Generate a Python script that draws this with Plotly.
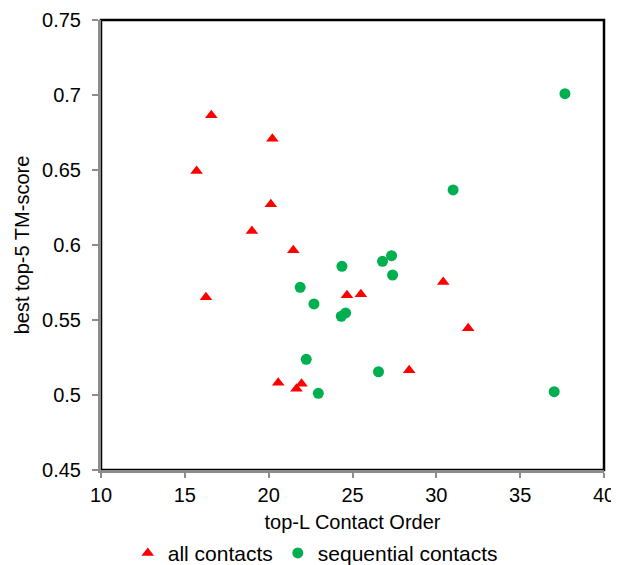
import plotly.graph_objects as go

all_x = [16.58, 20.22, 15.70, 20.13, 19.0, 21.47, 16.26, 24.67, 25.5, 30.41, 31.9, 28.38, 20.57, 21.96, 21.66]
all_y = [0.6865, 0.6709, 0.6493, 0.6271, 0.6093, 0.5965, 0.5651, 0.5665, 0.5671, 0.5753, 0.5445, 0.5165, 0.5082, 0.5075, 0.5042]

seq_x = [37.67, 31.0, 27.33, 26.79, 24.37, 27.39, 21.88, 22.70, 24.59, 24.33, 22.24, 26.55, 22.96, 37.03]
seq_y = [0.7009, 0.6367, 0.5929, 0.5891, 0.5858, 0.5800, 0.5718, 0.5607, 0.5547, 0.5525, 0.5238, 0.5155, 0.5011, 0.5022]

x_ticks = [10, 15, 20, 25, 30, 35, 40]
y_ticks = [0.45, 0.5, 0.55, 0.6, 0.65, 0.7, 0.75]
y_labels = ["0.45", "0.5", "0.55", "0.6", "0.65", "0.7", "0.75"]

fig = go.Figure()
fig.add_trace(go.Scatter(x=all_x, y=all_y, mode="markers", name="all contacts",
                         marker=dict(symbol="triangle-up", size=11, color="#FF0000")))
fig.add_trace(go.Scatter(x=seq_x, y=seq_y, mode="markers", name="sequential contacts",
                         marker=dict(symbol="circle", size=11, color="#00B050")))

font = "Liberation Sans, Arial, sans-serif"
fig.update_layout(
    width=611, height=557,
    margin=dict(l=93, r=15, t=12, b=95),
    plot_bgcolor="white", paper_bgcolor="white",
    font=dict(family=font, size=20, color="black"),
    showlegend=True,
    legend=dict(orientation="h", xref="container", x=0.196, xanchor="left",
                yref="container", y=0.021, yanchor="middle",
                font=dict(size=21), itemwidth=30, tracegroupgap=0),
    xaxis=dict(range=[10, 40], tickvals=x_ticks, showgrid=False, zeroline=False,
               automargin=False,
               showline=True, linecolor="#8c8c8c", linewidth=3,
               ticks="outside", ticklen=5, tickcolor="#8c8c8c", tickwidth=2,
               tickfont=dict(size=20),
               title=dict(text="top-L Contact Order", font=dict(size=20), standoff=28)),
    yaxis=dict(range=[0.45, 0.75], tickvals=y_ticks, ticktext=y_labels, showgrid=False,
               zeroline=False, automargin=False, showline=True, linecolor="#8c8c8c", linewidth=3,
               ticks="outside", ticklen=6, tickcolor="#8c8c8c", tickwidth=2,
               ticklabelstandoff=7,
               tickfont=dict(size=20),
               title=dict(text="best top-5 TM-score", font=dict(size=20), standoff=8)),
    shapes=[dict(type="rect", xref="paper", yref="paper", x0=0, x1=1, y0=0, y1=1,
                 line=dict(color="black", width=2.5), layer="below")],
)

fig.write_html("out.html")
